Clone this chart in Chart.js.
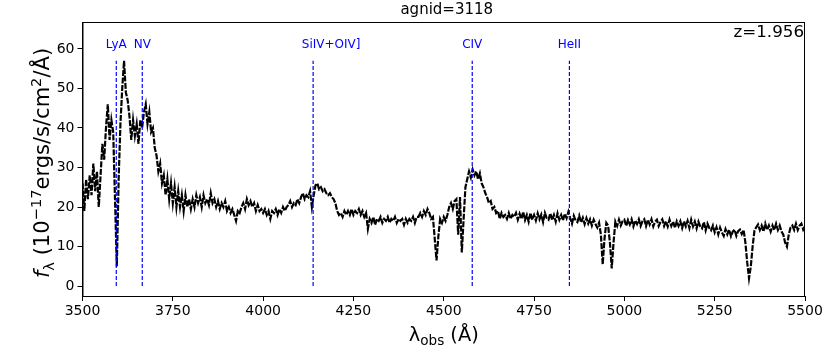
<!DOCTYPE html>
<html>
<head>
<meta charset="utf-8">
<script src="https://cdn.jsdelivr.net/npm/chart.js@4.4.1/dist/chart.umd.min.js"></script>
<style>
  html, body { margin: 0; padding: 0; background: #fff; }
  #wrap { width: 830px; height: 349px; }
</style>
</head>
<body>
<div id="wrap"><canvas id="specChart" width="830" height="349"></canvas></div>
<script>
// agnid=3118 spectrum, flux every 5 A (units 1e-17 erg/s/cm2/A)
const agnId = 3118;
const redshift = 1.956;
const waveStep = 5;
const segStarts = [3500, 3800, 4100, 4400, 4700, 5000, 5300];

const flux3500 = [26, 19, 27, 22, 28, 23, 31, 24, 29, 20,
                  28, 36, 32, 40, 46, 37, 42, 39, 22, 5,
                  27, 41, 50, 57, 49, 47, 43, 37, 42, 38,
                  41, 36, 42, 40, 44, 46, 41, 44, 39, 40,
                  35, 33, 29, 31, 26, 28, 23, 27, 22, 26,
                  21, 25, 20, 24, 20, 23, 19, 23, 20, 22];
const flux3800 = [19.5, 22, 20, 23, 21, 22.5, 20, 23, 21, 22,
                  20.5, 23.5, 21, 22, 20, 21.5, 19.5, 21, 20, 21.5,
                  19, 20, 18.5, 19.5, 18, 16.5, 19, 18.5, 20, 21,
                  19.5, 22, 20.5, 21.5, 20, 21, 19, 20.5, 19, 19.5,
                  18.5, 19.5, 18, 19, 17, 19, 18.5, 19.5, 18, 19.5,
                  18.5, 20, 19, 20, 20.5, 21.5, 20, 21, 20.5, 22];
const flux4100 = [21, 22.5, 23.5, 22, 23, 22.5, 24, 20, 23, 25.5,
                  26, 24.5, 25, 24, 24.5, 23.5, 23, 23.5, 22.5, 22,
                  21, 19, 18, 18.5, 17.5, 19, 18, 19, 18, 19.5,
                  18, 19, 18.5, 19.5, 18, 19, 17.5, 18.5, 14.5, 17,
                  16, 17.5, 15.5, 17, 16.5, 17.5, 16, 17, 16.5, 17.5,
                  16, 17, 16.5, 17.5, 16, 17, 16.5, 17, 15.5, 17];
const flux4400 = [16, 17, 16.5, 17.5, 16, 17.5, 17.5, 18.5, 17.5, 19,
                  18, 19.5, 18.5, 17, 17.5, 12, 6.5, 12.5, 17, 16,
                  17.5, 16.5, 18, 20, 21, 19.5, 21.5, 22, 13, 22.5,
                  8.5, 17, 25, 27, 29, 27.5, 29.5, 28, 29, 27,
                  28.5, 26, 25, 23.5, 22.5, 21, 21.5, 19.5, 20, 18.5,
                  19, 17, 18.5, 17.5, 18, 17, 18.5, 17, 18, 17.5];
const flux4700 = [18.5, 16.8, 18.3, 17, 18.8, 16.7, 18, 16.3, 18.5, 16.8,
                  18, 16.6, 18.4, 16.9, 18.1, 16.2, 18.5, 17.2, 16.8, 18.4,
                  16.7, 18, 16.3, 18.4, 16.8, 18, 16.6, 18.3, 17.2, 18.8,
                  17.2, 15.8, 17.8, 16.6, 16.2, 17.8, 16.1, 17.3, 15.7, 17.2,
                  15.8, 16.9, 15.3, 16.8, 15.7, 14.8, 16, 13, 5.5, 12,
                  16, 15.3, 11, 4.5, 11, 16.3, 15.2, 16.8, 15.3, 16.4];
const flux5000 = [16.8, 15.2, 16.7, 15.6, 16.9, 15.1, 16.6, 15.7, 16.9, 15.2,
                  16.4, 16.9, 15.2, 16.8, 15.6, 16.9, 15.1, 16.3, 16.8, 15.2,
                  16.2, 16.9, 15.2, 16.4, 15.1, 16.8, 15.2, 16.3, 14.7, 16.4,
                  15.2, 16.4, 14.7, 16.4, 15.1, 16.5, 14.7, 16.8, 15.1, 16.3,
                  14.6, 16.3, 15.1, 14.6, 16.2, 14.1, 15.8, 14.7, 14.1, 15.3,
                  13.6, 14.9, 13.1, 14.8, 13.6, 12.7, 14.4, 13.1, 14.3, 12.6];
const flux5300 = [13.8, 14.3, 12.7, 13.9, 14.3, 13.2, 14.2, 11, 6, 2,
                  5, 10, 14, 14.9, 15.6, 14.2, 15.3, 13.8, 15.8, 14.2,
                  15.3, 13.8, 15.3, 14.2, 15.8, 14.2, 15.3, 13.8, 13, 11,
                  10, 13, 14.8, 15.3, 14.2, 15.8, 14.2, 15.3, 15.8, 14.3,
                  15.2];
const fluxSegs = [flux3500, flux3800, flux4100, flux4400, flux4700, flux5000, flux5300];

// emission lines marked on the plot (rest wavelengths, A)
const lineNames = ['LyA', 'NV', 'SiIV+OIV]', 'CIV', 'HeII'];
const lineRest = [1215.67, 1240, 1400, 1549, 1640];
const labelShift = [0, 0, 50, 0, 0];   // label nudge in observed A
const lineTop = 57;
const lineLabelY = 61;

const xTicks = [3500, 3750, 4000, 4250, 4500, 4750, 5000, 5250, 5500];
const yTicks = [0, 10, 20, 30, 40, 50, 60];

const FONT = '"DejaVu Sans", sans-serif';

let specPoints = [];
fluxSegs.forEach(function (seg, k) {
    seg.forEach(function (f, i) {
        specPoints.push({ x: segStarts[k] + i * waveStep, y: f });
    });
});

const lineSets = lineRest.map(function (w, i) {
    const obs = w * (1 + redshift);
    return {
        label: lineNames[i],
        data: [{ x: obs, y: 0 }, { x: obs, y: lineTop }],
        borderColor: '#0000ff',
        borderWidth: 1.2,
        borderDash: [4, 2],
        pointRadius: 0
    };
});

// draw a run of text pieces with their own size / offset (sub & superscripts)
function drawRich(ctx, parts, x, y) {
    let total = 0;
    parts.forEach(function (p) {
        ctx.font = (p.italic ? 'italic ' : '') + p.size + 'px ' + FONT;
        p.w = ctx.measureText(p.t).width;
        total += p.w;
    });
    let cx = x - total / 2;
    parts.forEach(function (p) {
        ctx.font = (p.italic ? 'italic ' : '') + p.size + 'px ' + FONT;
        ctx.fillText(p.t, cx, y + (p.dy || 0));
        cx += p.w;
    });
}

const decorPlugin = {
    id: 'decor',
    afterDatasetsDraw: function (chart) {
        const ctx = chart.ctx;
        const a = chart.chartArea;
        const xs = chart.scales.x;
        const ys = chart.scales.y;
        ctx.save();

        // frame
        ctx.strokeStyle = '#000';
        ctx.lineWidth = 1;
        ctx.strokeRect(a.left + 0.5, a.top + 0.5, a.right - a.left - 1, a.bottom - a.top);

        // line names
        ctx.fillStyle = '#0000ff';
        ctx.font = '12px ' + FONT;
        ctx.textAlign = 'center';
        ctx.textBaseline = 'middle';
        lineRest.forEach(function (w, i) {
            const px = xs.getPixelForValue(w * (1 + redshift) + labelShift[i]);
            ctx.fillText(lineNames[i], px, ys.getPixelForValue(lineLabelY));
        });

        // redshift
        ctx.fillStyle = '#000';
        ctx.font = '16.7px ' + FONT;
        ctx.textAlign = 'right';
        ctx.fillText('z=' + redshift, a.right - 1, a.top + 11);

        // title
        ctx.font = '15px ' + FONT;
        ctx.textAlign = 'center';
        ctx.fillText('agnid=' + agnId, (a.left + a.right) / 2 + 3, 10);

        // axis titles
        ctx.textAlign = 'left';
        ctx.textBaseline = 'alphabetic';
        const B = 19.4;
        drawRich(ctx, [
            { t: 'λ', size: B },
            { t: 'obs', size: B * 0.7, dy: B * 0.22 },
            { t: ' (Å)', size: B }
        ], (a.left + a.right) / 2, 341);

        const C = 21;
        ctx.translate(49, 163);
        ctx.rotate(-Math.PI / 2);
        drawRich(ctx, [
            { t: 'f', size: C, italic: true },
            { t: 'λ', size: C * 0.7, dy: C * 0.22 },
            { t: ' (10', size: C },
            { t: '−17', size: C * 0.7, dy: -C * 0.4 },
            { t: 'ergs/s/cm', size: C },
            { t: '2', size: C * 0.7, dy: -C * 0.4 },
            { t: '/Å)', size: C }
        ], 0, 0);
        ctx.restore();
    }
};

const specSet = {
    label: 'spectrum',
    data: specPoints,
    borderColor: '#000',
    borderWidth: 2.2,
    borderDash: [6, 1.5],
    pointRadius: 0,
    tension: 0
};

const ctx = document.getElementById('specChart').getContext('2d');
const specChart = new Chart(ctx, {
    type: 'line',
    data: { datasets: lineSets.concat([specSet]) },
    options: {
        responsive: false,
        animation: false,
        devicePixelRatio: 1,
        parsing: false,
        layout: { padding: { top: 22, right: 25, left: 0, bottom: 0 } },
        plugins: { legend: { display: false }, tooltip: { enabled: false } },
        scales: {
            x: {
                type: 'linear',
                min: 3500,
                max: 5500,
                afterBuildTicks: function (s) { s.ticks = xTicks.map(function (v) { return { value: v }; }); },
                afterFit: function (s) { s.height = 53; },
                ticks: {
                    color: '#000',
                    font: { family: FONT, size: 14 },
                    padding: 2,
                    maxRotation: 0,
                    callback: function (v) { return String(v); }
                },
                grid: { drawOnChartArea: false, drawTicks: true, tickLength: 5, color: '#000' },
                border: { display: true, color: '#000', width: 1 }
            },
            y: {
                type: 'linear',
                min: -2.5,
                max: 66.8,
                afterBuildTicks: function (s) { s.ticks = yTicks.map(function (v) { return { value: v }; }); },
                afterFit: function (s) { s.width = 82.5; },
                ticks: {
                    color: '#000',
                    font: { family: FONT, size: 14 },
                    padding: 3,
                    callback: function (v) { return String(v); }
                },
                grid: { drawOnChartArea: false, drawTicks: true, tickLength: 5, color: '#000' },
                border: { display: true, color: '#000', width: 1 }
            }
        }
    },
    plugins: [decorPlugin]
});
</script>
</body>
</html>
